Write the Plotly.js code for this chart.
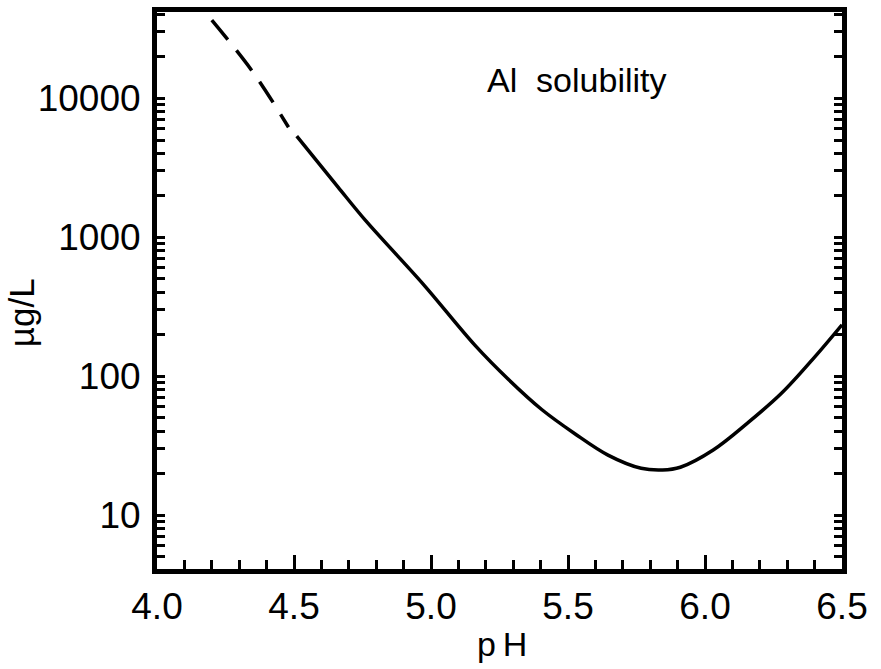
<!DOCTYPE html>
<html>
<head>
<meta charset="utf-8">
<script src="https://cdn.plot.ly/plotly-3.0.1.min.js"></script>
<style>html,body{margin:0;padding:0;background:#fff;}#chart{width:881px;height:669px;}</style>
</head>
<body>
<div id="chart"></div>
<script>
// Extrapolated (dashed) part of the curve
const dashedPH = [4.20, 4.35, 4.48];
const dashedAl = [36400, 15400, 6180];
// Main (solid) curve
const solidPH = [4.51, 4.66, 4.76, 4.874, 4.98, 5.16, 5.283, 5.404, 5.525, 5.646, 5.767, 5.845, 5.91, 6.03, 6.155, 6.28, 6.40, 6.50];
const solidAl = [5330, 2300, 1325, 748, 439, 167, 94.5, 57.5, 38.5, 27.0, 21.7, 21.1, 22.1, 29.4, 45.9, 75.5, 137, 234];
const yTickVals = [10, 100, 1000, 10000];
const yTickText = ['10', '100', '1000', '10000'];
const xTickVals = [4.0, 4.5, 5.0, 5.5, 6.0, 6.5];
const xTickText = ['4.0', '4.5', '5.0', '5.5', '6.0', '6.5'];

const font = 'Liberation Sans, Arial, Helvetica, sans-serif';

const traces = [
  {x: dashedPH, y: dashedAl, mode: 'lines', line: {color: '#000', width: 3.5, dash: '25px,14px', shape: 'spline'}, hoverinfo: 'skip'},
  {x: solidPH, y: solidAl, mode: 'lines', line: {color: '#000', width: 3.5, shape: 'spline', smoothing: 1}, hoverinfo: 'skip'}
];

const layout = {
  width: 881, height: 669,
  margin: {l: 157, r: 39, t: 12, b: 100},
  paper_bgcolor: '#fff', plot_bgcolor: '#fff',
  showlegend: false,
  font: {family: font, color: '#000', size: 36},
  xaxis: {
    range: [4.0, 6.5], tickvals: xTickVals, ticktext: xTickText,
    ticks: 'inside', ticklen: 14, tickwidth: 3, tickcolor: '#000',
    minor: {dtick: 0.1, ticks: 'inside', ticklen: 9, tickwidth: 3, tickcolor: '#000'},
    showline: true, linewidth: 5, linecolor: '#000', mirror: true,
    showgrid: false, zeroline: false,
    tickfont: {family: font, size: 37, color: '#000'},
    ticklabelstandoff: 1
  },
  yaxis: {
    type: 'log', range: [0.612, 4.62], tickvals: yTickVals, ticktext: yTickText,
    ticks: 'inside', ticklen: 8, tickwidth: 3, tickcolor: '#000',
    minor: {dtick: 'D1', ticks: 'inside', ticklen: 8, tickwidth: 3, tickcolor: '#000'},
    showline: true, linewidth: 5, linecolor: '#000', mirror: 'ticks',
    showgrid: false, zeroline: false,
    tickfont: {family: font, size: 37, color: '#000'},
    ticklabelstandoff: 4
  },
  annotations: [
    {text: 'Al\u00a0\u00a0solubility', xref: 'paper', yref: 'paper', x: 0.479, y: 0.878, xanchor: 'left', yanchor: 'middle', showarrow: false, font: {family: font, size: 34, color: '#000'}},
    {text: 'p\u2009H', xref: 'paper', yref: 'paper', x: 0.503, y: -0.135, xanchor: 'center', yanchor: 'middle', showarrow: false, font: {family: font, size: 34, color: '#000'}},
    {text: 'µg/L', xref: 'paper', yref: 'paper', x: -0.198, y: 0.46, xanchor: 'center', yanchor: 'middle', textangle: -90, showarrow: false, font: {family: font, size: 35, color: '#000'}}
  ]
};

Plotly.newPlot('chart', traces, layout, {displayModeBar: false, staticPlot: true});
</script>
</body>
</html>
